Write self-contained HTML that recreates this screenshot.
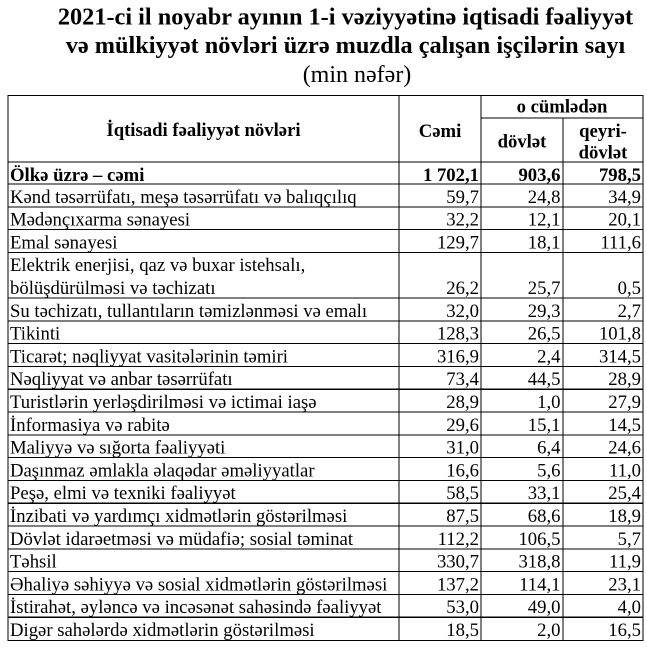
<!DOCTYPE html>
<html>
<head>
<meta charset="utf-8">
<style>
html,body{margin:0;padding:0;background:#fff;}
body{width:647px;height:649px;overflow:hidden;}
svg{display:block;}
text{font-family:"Liberation Serif","DejaVu Serif",serif;fill:#000;}
.t{font-size:24.3px;}
.b{font-weight:bold;}
.r{font-size:18.7px;}
.n{font-size:18.7px;text-anchor:end;}
.h{font-size:18.7px;font-weight:bold;text-anchor:middle;}
</style>
</head>
<body>
<svg width="647" height="649" viewBox="0 0 647 649" xmlns="http://www.w3.org/2000/svg">
<!-- Title -->
<text class="t b" x="345.5" y="24.5" text-anchor="middle">2021-ci il noyabr ayının 1-i vəziyyətinə iqtisadi fəaliyyət</text>
<text class="t b" x="345.5" y="53" text-anchor="middle">və mülkiyyət növləri üzrə muzdla çalışan işçilərin sayı</text>
<text class="t" x="357" y="82" text-anchor="middle" style="font-size:24px">(min nəfər)</text>

<!-- Grid lines -->
<g stroke="#000" stroke-width="1.1" shape-rendering="crispEdges" fill="none">
<rect x="8" y="95.5" width="635" height="545"/>
<line x1="399" y1="95" x2="399" y2="640"/>
<line x1="481" y1="95" x2="481" y2="640"/>
<line x1="563" y1="118" x2="563" y2="640"/>
<line x1="481" y1="118" x2="643" y2="118"/>
<line x1="8" y1="162" x2="643" y2="162"/>
<line x1="8" y1="184" x2="643" y2="184"/>
<line x1="8" y1="206.8" x2="643" y2="206.8"/>
<line x1="8" y1="229.6" x2="643" y2="229.6"/>
<line x1="8" y1="252.4" x2="643" y2="252.4"/>
<line x1="8" y1="298" x2="643" y2="298"/>
<line x1="8" y1="320.8" x2="643" y2="320.8"/>
<line x1="8" y1="343.6" x2="643" y2="343.6"/>
<line x1="8" y1="366.4" x2="643" y2="366.4"/>
<line x1="8" y1="389.2" x2="643" y2="389.2"/>
<line x1="8" y1="412" x2="643" y2="412"/>
<line x1="8" y1="434.8" x2="643" y2="434.8"/>
<line x1="8" y1="457.6" x2="643" y2="457.6"/>
<line x1="8" y1="480.4" x2="643" y2="480.4"/>
<line x1="8" y1="503.2" x2="643" y2="503.2"/>
<line x1="8" y1="526" x2="643" y2="526"/>
<line x1="8" y1="548.8" x2="643" y2="548.8"/>
<line x1="8" y1="571.6" x2="643" y2="571.6"/>
<line x1="8" y1="594.4" x2="643" y2="594.4"/>
<line x1="8" y1="617.2" x2="643" y2="617.2"/>
</g>

<!-- Header -->
<text class="h" x="203.5" y="136">İqtisadi fəaliyyət növləri</text>
<text class="h" x="440" y="137">Cəmi</text>
<text class="h" x="562" y="112.5">o cümlədən</text>
<text class="h" x="522" y="147.5">dövlət</text>
<text class="h" x="603" y="137">qeyri-</text>
<text class="h" x="603" y="158.5">dövlət</text>

<!-- Total row -->
<text class="r b" x="10" y="181">Ölkə üzrə – cəmi</text>
<text class="n b" x="479" y="181">1 702,1</text>
<text class="n b" x="560.5" y="181">903,6</text>
<text class="n b" x="641" y="181">798,5</text>

<!-- Data rows -->
<text class="r" x="10" y="202.8">Kənd təsərrüfatı, meşə təsərrüfatı və balıqçılıq</text>
<text class="n" x="479" y="202.8">59,7</text><text class="n" x="560.5" y="202.8">24,8</text><text class="n" x="641" y="202.8">34,9</text>

<text class="r" x="10" y="225.6">Mədənçıxarma sənayesi</text>
<text class="n" x="479" y="225.6">32,2</text><text class="n" x="560.5" y="225.6">12,1</text><text class="n" x="641" y="225.6">20,1</text>

<text class="r" x="10" y="248.4">Emal sənayesi</text>
<text class="n" x="479" y="248.4">129,7</text><text class="n" x="560.5" y="248.4">18,1</text><text class="n" x="641" y="248.4">111,6</text>

<text class="r" x="10" y="271.2">Elektrik enerjisi, qaz və buxar istehsalı,</text>
<text class="r" x="10" y="294">bölüşdürülməsi və təchizatı</text>
<text class="n" x="479" y="294">26,2</text><text class="n" x="560.5" y="294">25,7</text><text class="n" x="641" y="294">0,5</text>

<text class="r" x="10" y="316.8">Su təchizatı, tullantıların təmizlənməsi və emalı</text>
<text class="n" x="479" y="316.8">32,0</text><text class="n" x="560.5" y="316.8">29,3</text><text class="n" x="641" y="316.8">2,7</text>

<text class="r" x="10" y="339.6">Tikinti</text>
<text class="n" x="479" y="339.6">128,3</text><text class="n" x="560.5" y="339.6">26,5</text><text class="n" x="641" y="339.6">101,8</text>

<text class="r" x="10" y="362.4">Ticarət; nəqliyyat vasitələrinin təmiri</text>
<text class="n" x="479" y="362.4">316,9</text><text class="n" x="560.5" y="362.4">2,4</text><text class="n" x="641" y="362.4">314,5</text>

<text class="r" x="10" y="385.2">Nəqliyyat və anbar təsərrüfatı</text>
<text class="n" x="479" y="385.2">73,4</text><text class="n" x="560.5" y="385.2">44,5</text><text class="n" x="641" y="385.2">28,9</text>

<text class="r" x="10" y="408">Turistlərin yerləşdirilməsi və ictimai iaşə</text>
<text class="n" x="479" y="408">28,9</text><text class="n" x="560.5" y="408">1,0</text><text class="n" x="641" y="408">27,9</text>

<text class="r" x="10" y="430.8">İnformasiya və rabitə</text>
<text class="n" x="479" y="430.8">29,6</text><text class="n" x="560.5" y="430.8">15,1</text><text class="n" x="641" y="430.8">14,5</text>

<text class="r" x="10" y="453.6">Maliyyə və sığorta fəaliyyəti</text>
<text class="n" x="479" y="453.6">31,0</text><text class="n" x="560.5" y="453.6">6,4</text><text class="n" x="641" y="453.6">24,6</text>

<text class="r" x="10" y="476.4">Daşınmaz əmlakla əlaqədar əməliyyatlar</text>
<text class="n" x="479" y="476.4">16,6</text><text class="n" x="560.5" y="476.4">5,6</text><text class="n" x="641" y="476.4">11,0</text>

<text class="r" x="10" y="499.2">Peşə, elmi və texniki fəaliyyət</text>
<text class="n" x="479" y="499.2">58,5</text><text class="n" x="560.5" y="499.2">33,1</text><text class="n" x="641" y="499.2">25,4</text>

<text class="r" x="10" y="522">İnzibati və yardımçı xidmətlərin göstərilməsi</text>
<text class="n" x="479" y="522">87,5</text><text class="n" x="560.5" y="522">68,6</text><text class="n" x="641" y="522">18,9</text>

<text class="r" x="10" y="544.8">Dövlət idarəetməsi və müdafiə; sosial təminat</text>
<text class="n" x="479" y="544.8">112,2</text><text class="n" x="560.5" y="544.8">106,5</text><text class="n" x="641" y="544.8">5,7</text>

<text class="r" x="10" y="567.6">Təhsil</text>
<text class="n" x="479" y="567.6">330,7</text><text class="n" x="560.5" y="567.6">318,8</text><text class="n" x="641" y="567.6">11,9</text>

<text class="r" x="10" y="590.4">Əhaliyə səhiyyə və sosial xidmətlərin göstərilməsi</text>
<text class="n" x="479" y="590.4">137,2</text><text class="n" x="560.5" y="590.4">114,1</text><text class="n" x="641" y="590.4">23,1</text>

<text class="r" x="10" y="613.2">İstirahət, əyləncə və incəsənət sahəsində fəaliyyət</text>
<text class="n" x="479" y="613.2">53,0</text><text class="n" x="560.5" y="613.2">49,0</text><text class="n" x="641" y="613.2">4,0</text>

<text class="r" x="10" y="636">Digər sahələrdə xidmətlərin göstərilməsi</text>
<text class="n" x="479" y="636">18,5</text><text class="n" x="560.5" y="636">2,0</text><text class="n" x="641" y="636">16,5</text>
</svg>
</body>
</html>
